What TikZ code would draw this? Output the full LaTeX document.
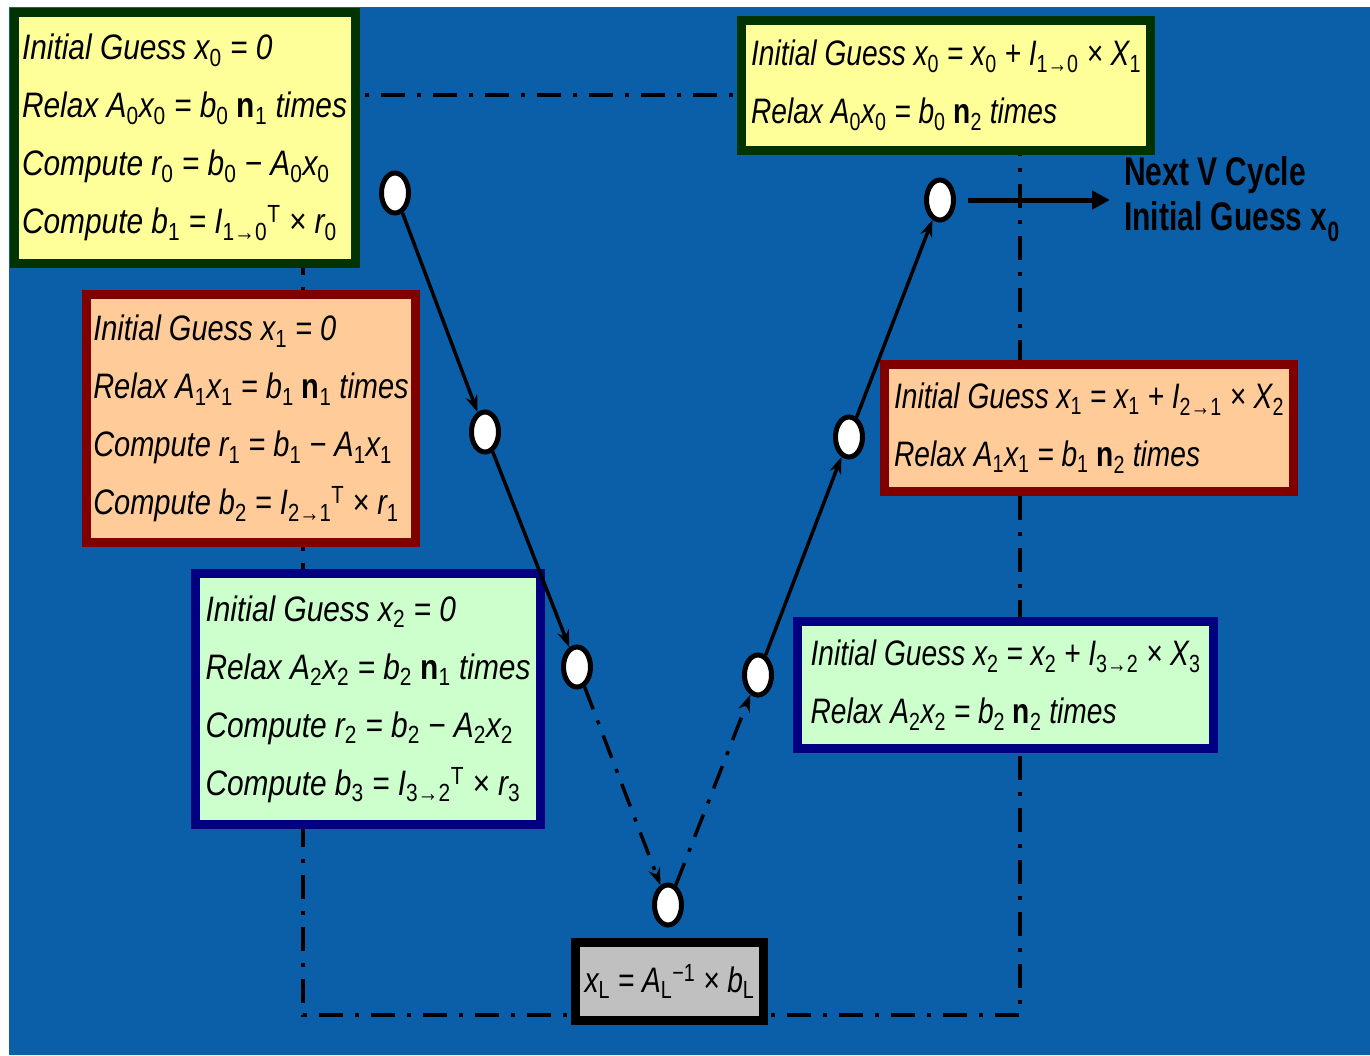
\documentclass[tikz,border=0pt]{standalone}
\usepackage{fontspec}
\setmainfont{Liberation Sans}
\usetikzlibrary{shapes.geometric,arrows.meta}
\definecolor{bgblue}{RGB}{11,95,168}
\definecolor{yelfill}{HTML}{FFFF99}
\definecolor{yelline}{HTML}{003300}
\definecolor{orfill}{HTML}{FFCC99}
\definecolor{orline}{HTML}{800000}
\definecolor{grfill}{HTML}{CCFFCC}
\definecolor{grline}{HTML}{000080}
\definecolor{gyfill}{HTML}{C0C0C0}
\newcommand\mysb[1]{\textsubscript{\upshape #1}}
\newcommand\mysp[1]{\textsuperscript{\upshape #1}}
\newcommand\nb[1]{{\bfseries\upshape n}\mysb{#1}}
\newcommand\tl[1]{\scalebox{1.03}[1.22]{#1}}
\newcommand\tm[1]{\scalebox{1.0}[1.22]{#1}}
\newcommand\tg[1]{\scalebox{0.97}[1.22]{#1}}
\newcommand\tw[1]{\scalebox{0.97}[1.22]{#1}}
\begin{document}
\begin{tikzpicture}[x=1pt,y=-1pt,
  box/.style={draw, line width=9pt, align=left, inner sep=0pt, text=black,
    font=\fontsize{29}{58}\selectfont\itshape},
  yelbox/.style={box, fill=yelfill, draw=yelline},
  orbox/.style={box, fill=orfill, draw=orline},
  grbox/.style={box, fill=grfill, draw=grline},
  gybox/.style={box, fill=gyfill, draw=black},
  pt/.style={ellipse, draw=black, fill=white, line width=5pt, inner sep=0pt,
    minimum width=27pt, minimum height=40pt},
  dashdot/.style={line width=4pt, dash pattern=on 24pt off 12pt on 4pt off 12pt},
  vline/.style={line width=3.5pt, -{Stealth[length=17pt,width=12pt]}},
]
\useasboundingbox (0,0) rectangle (1370,1055);
\fill[white] (0,0) rectangle (1370,1055);
\fill[bgblue] (9,7) rectangle (1370,1055);

% dash-dot frame
\draw[dashdot] (303,95) rectangle (1020,1015);

% boxes
\node[yelbox, minimum width=341pt, minimum height=251pt] (bA) at (184.5,137.5)
  {\tl{Initial Guess x\mysb{0} = 0}\\
   \tl{Relax A\mysb{0}x\mysb{0} = b\mysb{0} \nb{1} times}\\
   \tl{Compute r\mysb{0} = b\mysb{0} − A\mysb{0}x\mysb{0}}\\
   \tl{Compute b\mysb{1} = I\mysb{1→0}\mysp{T} × r\mysb{0}}};
\node[yelbox, minimum width=409pt, minimum height=130pt] (bB) at (946,85.5)
  {\tw{Initial Guess x\mysb{0} = x\mysb{0} + I\mysb{1→0} × X\mysb{1}}\\
   \tw{Relax A\mysb{0}x\mysb{0} = b\mysb{0} \nb{2} times}};
\node[orbox, minimum width=329pt, minimum height=248pt] (bC) at (251,418.5)
  {\tm{Initial Guess x\mysb{1} = 0}\\
   \tm{Relax A\mysb{1}x\mysb{1} = b\mysb{1} \nb{1} times}\\
   \tm{Compute r\mysb{1} = b\mysb{1} − A\mysb{1}x\mysb{1}}\\
   \tm{Compute b\mysb{2} = I\mysb{2→1}\mysp{T} × r\mysb{1}}};
\node[orbox, minimum width=409pt, minimum height=127pt] (bD) at (1089,428)
  {\tw{Initial Guess x\mysb{1} = x\mysb{1} + I\mysb{2→1} × X\mysb{2}}\\
   \tw{Relax A\mysb{1}x\mysb{1} = b\mysb{1} \nb{2} times}};
\node[grbox, minimum width=345pt, minimum height=251pt] (bE) at (368,699)
  {\tl{Initial Guess x\mysb{2} = 0}\\
   \tl{Relax A\mysb{2}x\mysb{2} = b\mysb{2} \nb{1} times}\\
   \tl{Compute r\mysb{2} = b\mysb{2} − A\mysb{2}x\mysb{2}}\\
   \tl{Compute b\mysb{3} = I\mysb{3→2}\mysp{T} × r\mysb{3}}};
\node[grbox, minimum width=416pt, minimum height=127pt] (bF) at (1005.5,685)
  {\tw{Initial Guess x\mysb{2} = x\mysb{2} + I\mysb{3→2} × X\mysb{3}}\\
   \tw{Relax A\mysb{2}x\mysb{2} = b\mysb{2} \nb{2} times}};
\node[gybox, minimum width=188pt, minimum height=78pt] (bG) at (669.5,981.5)
  {\tg{x\mysb{L} = A\mysb{L}\mysp{−1} × b\mysb{L}}};

% points of the V
\node[pt] (c1) at (395,193) {};
\node[pt] (c2) at (485,432) {};
\node[pt] (c3) at (577,667) {};
\node[pt] (c4) at (668,905) {};
\node[pt] (c5) at (758,675) {};
\node[pt] (c6) at (849,437) {};
\node[pt] (c7) at (940,200) {};

\draw[vline] (c1) -- (c2);
\draw[vline] (c2) -- (c3);
\draw[vline, dashdot, line width=3.5pt] (c3) -- (c4);
\draw[vline, dashdot, line width=3.5pt] (c4) -- (c5);
\draw[vline] (c5) -- (c6);
\draw[vline] (c6) -- (c7);

% next cycle
\node[anchor=west, align=left, text=black, inner sep=0pt,
  font=\fontsize{40}{45}\selectfont\bfseries] (next) at (1124,199)
  {\scalebox{0.75}[1]{Next V Cycle}\\\scalebox{0.75}[1]{Initial Guess x\mysb{0}}};
\draw[line width=5pt, -{Triangle[length=18pt,width=18pt]}, shorten <=12pt, shorten >=14pt]
  (c7) -- (c7 -| next.west);
\end{tikzpicture}
\end{document}
